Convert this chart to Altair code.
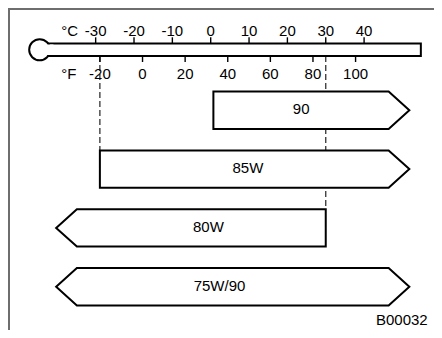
import altair as alt
import pandas as pd

# ---- data ----
grades = ["90", "85W", "80W", "75W/90"]
low_c = [0.7, -28.9, None, None]      # None = open ended (arrow)
high_c = [None, None, 30.0, None]
label_c = [23.6, 9.7, -0.6, 2.3]      # where each grade name sits (deg C)
c_ticks = [-30, -20, -10, 0, 10, 20, 30, 40]
f_ticks = [-20, 0, 20, 40, 60, 80, 100]
guide_c = [-28.9, 30.0]
guide_row = [1, 2]
code_label = "B00032"

# ---- layout constants ----
W, H = 426, 322
X_DOMAIN = [-52.86, 58.23]
OPEN_LO, OPEN_HI, HEAD = -40.3, 51.8, 5.4
ROW0, ROWSTEP, HALF = 102.3, 58.8, 18.7
TUBE_TOP, TUBE_BOT = 35.5, 48.0
TUBE_LO, TUBE_HI = -42.6, 54.8
BULB_X = -44.6
C_LAB_Y, F_LAB_Y = 23.3, 65.5
FONT = "Liberation Sans"

xs = alt.Scale(domain=X_DOMAIN, nice=False, zero=False)
ys = alt.Scale(domain=[0, H], nice=False, zero=False, reverse=True)


def X(f):
    return alt.X(f, type="quantitative", scale=xs, axis=None)


def Y(f):
    return alt.Y(f, type="quantitative", scale=ys, axis=None)


# bars as polygons
rows = []
for i, g in enumerate(grades):
    mid = ROW0 + i * ROWSTEP
    top, bot = mid - HALF, mid + HALF
    pts = []
    if low_c[i] is None:
        pts += [(OPEN_LO, mid, mid), (OPEN_LO + HEAD, top, bot)]
    else:
        pts += [(low_c[i], top, bot)]
    if high_c[i] is None:
        pts += [(OPEN_HI - HEAD, top, bot), (OPEN_HI, mid, mid)]
    else:
        pts += [(high_c[i], top, bot)]
    for x, y, y2 in pts:
        rows.append({"grade": g, "x": x, "y": y, "y2": y2})
bars_df = pd.DataFrame(rows)

labels_df = pd.DataFrame({
    "grade": grades,
    "x": label_c,
    "y": [ROW0 + i * ROWSTEP - 1 for i in range(len(grades))],
})

guides_df = pd.DataFrame({
    "x": guide_c,
    "y": [TUBE_BOT] * len(guide_c),
    "y2": [ROW0 + r * ROWSTEP - HALF for r in guide_row],
})

ctick_df = pd.DataFrame({"c": c_ticks, "lab": [str(v) for v in c_ticks],
                         "y": [TUBE_TOP - 6.2] * len(c_ticks),
                         "y2": [TUBE_TOP] * len(c_ticks),
                         "ly": [C_LAB_Y] * len(c_ticks)})
ftick_df = pd.DataFrame({"c": [(f - 32) * 5 / 9 for f in f_ticks],
                         "lab": [str(v) for v in f_ticks],
                         "y": [TUBE_BOT] * len(f_ticks),
                         "y2": [TUBE_BOT + 6.0] * len(f_ticks),
                         "ly": [F_LAB_Y] * len(f_ticks)})

one = pd.DataFrame({"a": [0]})

frame_top = alt.Chart(one).mark_rule(color="#6e6e6e", strokeWidth=2).encode(
    x=alt.value(0), x2=alt.value(W), y=alt.value(1))
frame_left = alt.Chart(one).mark_rule(color="#6e6e6e", strokeWidth=2).encode(
    x=alt.value(1), y=alt.value(0), y2=alt.value(H))

guides = alt.Chart(guides_df).mark_rule(
    color="#333333", strokeWidth=1.3, strokeDash=[6, 3]).encode(
    x=X("x"), y=Y("y"), y2="y2")

bars = alt.Chart(bars_df).mark_area(
    fill="white", stroke="black", strokeWidth=2, interpolate="linear",
    opacity=1).encode(
    x=X("x"), y=Y("y"), y2="y2", detail="grade:N")

bar_text = alt.Chart(labels_df).mark_text(
    font=FONT, fontSize=15, color="black", baseline="middle", align="center").encode(
    x=X("x"), y=Y("y"), text="grade:N")

tube = alt.Chart(pd.DataFrame({"x": [TUBE_LO], "x2": [TUBE_HI],
                               "y": [TUBE_TOP], "y2": [TUBE_BOT]})).mark_rect(
    fill="white", stroke="black", strokeWidth=2).encode(
    x=X("x"), x2="x2", y=Y("y"), y2="y2")

bulb = alt.Chart(pd.DataFrame({"x": [BULB_X], "y": [(TUBE_TOP + TUBE_BOT) / 2]})).mark_point(
    shape="circle", filled=True, fill="white", stroke="black", strokeWidth=2,
    size=441, opacity=1).encode(x=X("x"), y=Y("y"))

cover = alt.Chart(pd.DataFrame({"x": [BULB_X + 1.2], "x2": [TUBE_LO + 1.6],
                                "y": [TUBE_TOP + 1.1], "y2": [TUBE_BOT - 1.1]})).mark_rect(
    fill="white", strokeWidth=0).encode(x=X("x"), x2="x2", y=Y("y"), y2="y2")

cticks = alt.Chart(ctick_df).mark_rule(color="black", strokeWidth=1.4).encode(
    x=X("c"), y=Y("y"), y2="y2")
fticks = alt.Chart(ftick_df).mark_rule(color="black", strokeWidth=1.4).encode(
    x=X("c"), y=Y("y"), y2="y2")

clabels = alt.Chart(ctick_df).mark_text(
    font=FONT, fontSize=15, color="black", baseline="middle", align="center").encode(
    x=X("c"), y=Y("ly"), text="lab:N")
flabels = alt.Chart(ftick_df).mark_text(
    font=FONT, fontSize=15, color="black", baseline="middle", align="center").encode(
    x=X("c"), y=Y("ly"), text="lab:N")

unit_df = pd.DataFrame({"x": [BULB_X + 5.6] * 2, "y": [C_LAB_Y, F_LAB_Y], "t": ["°C", "°F"]})
units = alt.Chart(unit_df).mark_text(
    font=FONT, fontSize=15, color="black", baseline="middle", align="left").encode(
    x=X("x"), y=Y("y"), text="t:N")

code_df = pd.DataFrame({"x": [X_DOMAIN[0] + (419.7 / W) * (X_DOMAIN[1] - X_DOMAIN[0])],
                        "y": [311.5], "t": [code_label]})
code = alt.Chart(code_df).mark_text(
    font=FONT, fontSize=15, color="black", baseline="middle", align="right").encode(
    x=X("x"), y=Y("y"), text="t:N")

chart = alt.layer(
    frame_top, frame_left, guides, bars, bar_text, tube, bulb, cover,
    cticks, fticks, clabels, flabels, units, code
).properties(
    width=W, height=H, padding=0, autosize=alt.AutoSizeParams(type="none")
).configure_view(stroke=None)

chart.save("out.html", embed_options={"renderer": "svg", "actions": False})
